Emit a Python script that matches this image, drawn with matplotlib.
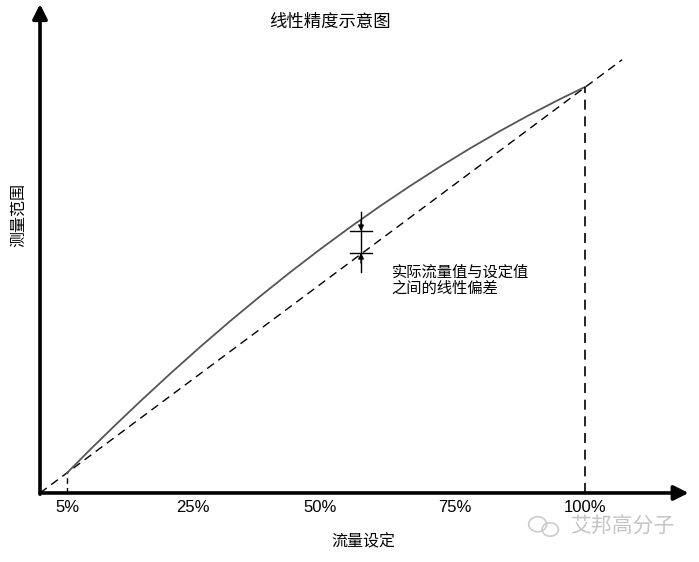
import numpy as np
import matplotlib
matplotlib.use("Agg")
import matplotlib.pyplot as plt
from matplotlib.patches import Ellipse

plt.rcParams["font.family"] = ["Noto Sans CJK SC", "DejaVu Sans"]

flow_actual = [4.95, 9.17, 13.76, 18.35, 23.85, 29.36, 34.86, 40.37, 45.87, 51.38,
               56.88, 62.39, 67.89, 73.39, 78.90, 84.40, 89.91, 95.41, 100.0]
meas_actual = [4.93, 10.64, 16.65, 22.51, 29.33, 35.94, 42.30, 48.42, 54.33, 60.00,
               65.43, 70.64, 75.60, 80.34, 84.86, 89.14, 93.19, 97.00, 100.0]
ideal_x = [0.0, 106.8]
ideal_y = [0.0, 106.7]

tick_labels = ["5%", "25%", "50%", "75%", "100%"]
tick_pos = [5.0, 28.1, 51.4, 76.1, 100.0]

gap_x = 58.9
gap_top, gap_bottom = 64.5, 59.1
gap_lead = 4.8

title = "线性精度示意图"
xlabel = "流量设定"
ylabel = "测量范围"
note = "实际流量值与设定值\n之间的线性偏差"

fig = plt.figure(figsize=(6.99, 5.62), dpi=100)
ax = fig.add_axes([0, 0, 1, 1])
ax.set_xlim(-7.34, 120.9)
ax.set_ylim(-17.0, 121.4)
ax.axis("off")

# axes with arrow heads
arrow_kw = dict(arrowstyle="-|>", color="black", lw=2.6, mutation_scale=22,
                shrinkA=0, shrinkB=0)
ax.annotate("", xy=(119.0, 0), xytext=(0, 0), arrowprops=arrow_kw)
ax.annotate("", xy=(0, 120.4), xytext=(0, -0.3), arrowprops=arrow_kw)

# ideal line and actual curve
ax.plot(ideal_x, ideal_y, color="black", lw=1.0, ls=(0, (6, 4)))
ax.plot(flow_actual, meas_actual, color="#555555", lw=1.3)

# drop lines at 5% and 100%
ax.plot([flow_actual[0]] * 2, [0, meas_actual[0]], color="black", lw=1.0, ls=(0, (4, 3)))
ax.plot([flow_actual[-1]] * 2, [0, meas_actual[-1]], color="black", lw=1.2, ls=(0, (6, 4)))

# deviation marker
ax.plot([gap_x, gap_x], [gap_bottom - gap_lead, gap_top + gap_lead], color="black", lw=1.0)
for yv in (gap_top, gap_bottom):
    ax.plot([gap_x - 2.0, gap_x + 2.0], [yv, yv], color="black", lw=1.0)
head_kw = dict(arrowstyle="-|>", color="black", lw=1.0, mutation_scale=8,
               shrinkA=0, shrinkB=0)
ax.annotate("", xy=(gap_x, gap_top), xytext=(gap_x, gap_top + 2.5), arrowprops=head_kw)
ax.annotate("", xy=(gap_x, gap_bottom), xytext=(gap_x, gap_bottom - 2.5), arrowprops=head_kw)

ax.text(64.5, 56.5, note, fontsize=11, va="top", ha="left", linespacing=0.95)

# texts
for p, lab in zip(tick_pos, tick_labels):
    ax.text(p, -3.7, lab, fontsize=12, ha="center", va="center",
            family=["Liberation Sans", "DejaVu Sans"])
ax.text(53.2, 116.0, title, fontsize=12.5, ha="center", va="center")
ax.text(59.3, -12.1, xlabel, fontsize=11.5, ha="center", va="center")
ax.text(-4.0, 68.4, ylabel, fontsize=11.5, ha="center", va="center", rotation=90)

# watermark (wechat-like bubbles + name)
ax.add_patch(Ellipse((91.3, -7.7), 3.3, 3.7, fill=False, ec="#cccccc", lw=1.2))
ax.add_patch(Ellipse((93.6, -9.0), 3.0, 3.3, fill=False, ec="#cccccc", lw=1.2))
ax.text(106.8, -8.4, "艾邦高分子", fontsize=15, color="#c4c4c4", ha="center", va="center")

fig.savefig("out.png", dpi=100)
